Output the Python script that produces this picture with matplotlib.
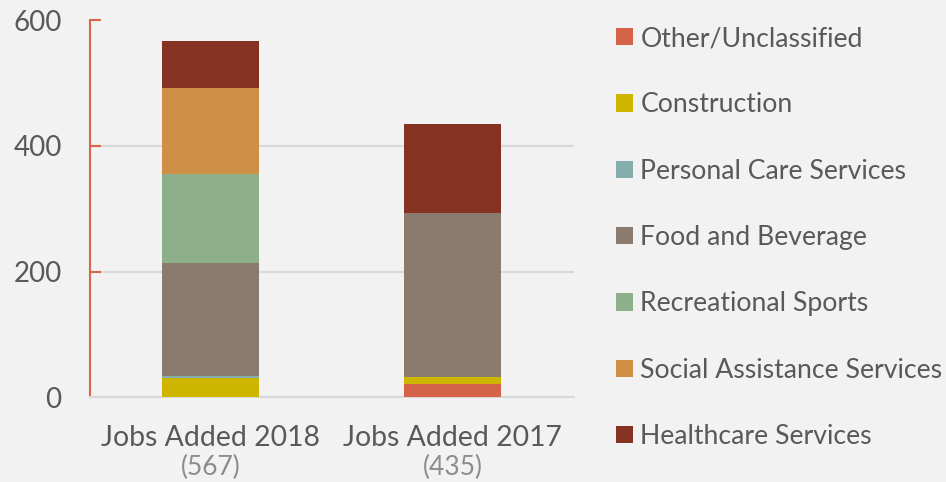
import matplotlib
matplotlib.use("Agg")
import matplotlib.pyplot as plt
from matplotlib.patches import Patch
import numpy as np

plt.rcParams['font.family'] = ['Lato', 'DejaVu Sans']

categories = ["Jobs Added 2018", "Jobs Added 2017"]
series = ["Other/Unclassified", "Construction", "Personal Care Services",
          "Food and Beverage", "Recreational Sports", "Social Assistance Services",
          "Healthcare Services"]
other = [0, 21]
construction = [31, 11]
personal_care = [3, 0]
food_bev = [179, 261]
recreational = [143, 0]
social = [137, 0]
healthcare = [74, 142]
values = [other, construction, personal_care, food_bev, recreational, social, healthcare]
colors = ["#d4634a", "#cdb500", "#86adad", "#8b7b6e", "#8db08b", "#d08f47", "#863223"]
yticks = [0, 200, 400, 600]

bg = "#f2f2f2"
fig = plt.figure(figsize=(9.46, 4.82), dpi=100, facecolor=bg)
ax = fig.add_axes([89.5/946, 85/482, 484/946, 376.5/482], facecolor=bg)

x = np.arange(len(categories))
bottom = np.zeros(len(categories))
for vals, col in zip(values, colors):
    ax.bar(x, vals, width=0.4, bottom=bottom, color=col, zorder=3)
    bottom += np.array(vals)

ax.set_xlim(-0.5, 1.5)
ax.set_ylim(0, 600)
ax.set_yticks(yticks)
ax.set_yticklabels([str(t) for t in yticks])
ax.yaxis.grid(True, color="#d9d9d9", linewidth=1.5, zorder=0)
ax.set_axisbelow(True)

for s in ["top", "right"]:
    ax.spines[s].set_visible(False)
ax.spines["left"].set_color("#d9654b")
ax.spines["left"].set_linewidth(1.5)
ax.spines["bottom"].set_color("#d9d9d9")
ax.spines["bottom"].set_linewidth(1.5)

ax.tick_params(axis="y", direction="in", length=8, width=1.5, color="#d9654b",
               labelsize=20, labelcolor="#595959", pad=20)
ax.set_xticks(x)
ax.set_xticklabels(categories)
ax.tick_params(axis="x", length=0, labelsize=20.4, labelcolor="#595959", pad=20)

totals = bottom
for xi, t in zip(x, totals):
    ax.annotate(f"({int(t)})", xy=(xi, 0), xycoords=("data", "axes fraction"),
                xytext=(0, -51), textcoords="offset points", ha="center", va="center",
                fontsize=19, color="#8c8c8c")

handles = [Patch(facecolor=c, edgecolor="none") for c in colors]
fig.legend(handles, series, loc="upper left", bbox_to_anchor=(616/946, 1 - 26/482),
           frameon=False, fontsize=19.2, labelcolor="#595959",
           handlelength=0.64, handleheight=0.62, handletextpad=0.27, labelspacing=1.55,
           borderaxespad=0, borderpad=0)

fig.savefig("out.png", dpi=100, facecolor=bg)
